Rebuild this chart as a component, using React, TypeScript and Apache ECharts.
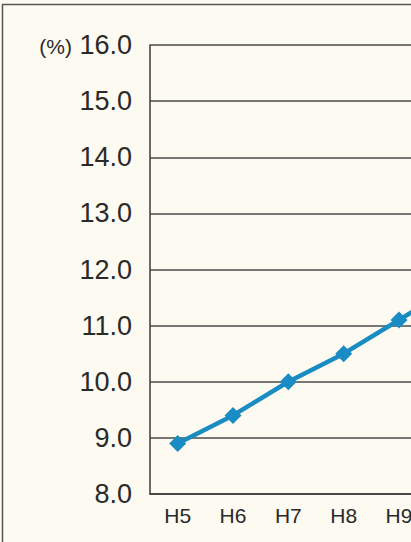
import React, { useEffect, useRef } from "react";
import * as echarts from "echarts";

const categories = ["H5", "H6", "H7", "H8", "H9", "H10"];
const rateValues = [8.9, 9.4, 10.0, 10.5, 11.1, 11.7];
const yMin = 8;
const yMax = 16;
const yInterval = 1;
const unitLabel = "(%)";

export default function App() {
  const ref = useRef<HTMLDivElement>(null);
  useEffect(() => {
    const el = ref.current!;
    const chart = echarts.init(el, undefined, { renderer: "svg" });
    chart.setOption({
      animation: false,
      backgroundColor: "#fcfaf1",
      grid: { left: 150, top: 45, bottom: 48, right: 0, containLabel: false },
      graphic: [
        {
          type: "rect",
          shape: { x: 2.5, y: 4.5, width: 600, height: 700 },
          style: { fill: "none", stroke: "#555", lineWidth: 1.5 },
          silent: true,
        },
        {
          type: "text",
          x: 72,
          y: 46,
          style: {
            text: unitLabel,
            fill: "#2a2a2a",
            font: "21px 'Liberation Sans', Arial, sans-serif",
            align: "right",
            verticalAlign: "middle",
          },
        },
      ],
      xAxis: {
        type: "category",
        data: categories,
        boundaryGap: true,
        axisLine: { show: true, lineStyle: { color: "#3a3a3a", width: 1.5 } },
        axisTick: { show: false },
        axisLabel: {
          interval: 0,
          color: "#2a2a2a",
          fontSize: 21,
          fontFamily: "'Liberation Sans', Arial, sans-serif",
          margin: 11,
        },
        splitLine: { show: false },
      },
      yAxis: {
        type: "value",
        min: yMin,
        max: yMax,
        interval: yInterval,
        axisLine: { show: true, lineStyle: { color: "#3a3a3a", width: 1.5 } },
        axisTick: { show: false },
        axisLabel: {
          color: "#2a2a2a",
          fontSize: 27,
          fontFamily: "'Liberation Sans', Arial, sans-serif",
          margin: 18,
          formatter: (v: number) => v.toFixed(1),
        },
        splitLine: { show: true, lineStyle: { color: "#4a4a4a", width: 1.5 } },
      },
      series: [
        {
          type: "line",
          data: rateValues,
          symbol: "diamond",
          symbolSize: 17,
          lineStyle: { color: "#1a8cc4", width: 4.5 },
          itemStyle: { color: "#1a8cc4" },
          z: 5,
        },
      ],
    });
    return () => chart.dispose();
  }, []);
  return (
    <div
      style={{
        position: "fixed",
        left: 0,
        top: 0,
        width: 411,
        height: 542,
        overflow: "hidden",
      }}
    >
      <div ref={ref} style={{ width: 482, height: 542 }} />
    </div>
  );
}
